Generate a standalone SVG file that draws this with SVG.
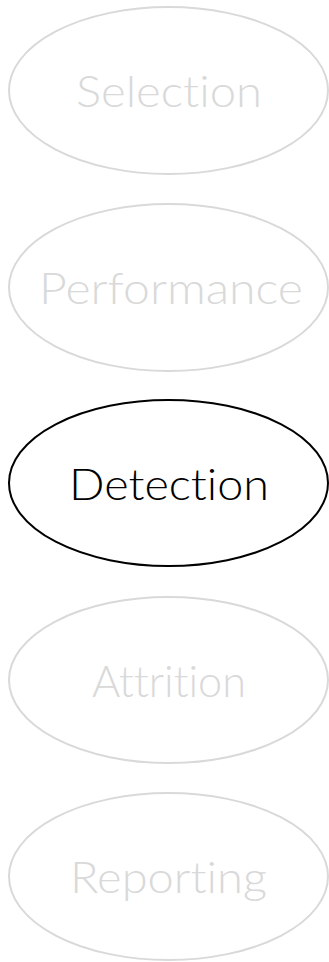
<svg xmlns="http://www.w3.org/2000/svg" width="329" height="962" viewBox="0 0 329 962">
<style>
.bg{fill:#ffffff}
.n ellipse{fill:#ffffff;stroke-width:2}
.dim ellipse{stroke:#d9d9d9}
.dim text{fill:#d9d9d9}
.act ellipse{stroke:#000000}
.act text{fill:#000000}
text{font-family:"Lato","Liberation Sans","DejaVu Sans",sans-serif;font-weight:300;font-size:44px;text-anchor:middle;font-variant-ligatures:none;font-feature-settings:"liga" 0,"clig" 0}
</style>
<rect class="bg" x="0" y="0" width="329" height="962"/>
<g id="connectors"></g>
<g id="selection" class="n dim">
<ellipse cx="168.5" cy="90.5" rx="159.5" ry="83.5"/>
<text x="169" y="107" textLength="186" lengthAdjust="spacingAndGlyphs">Selection</text>
</g>
<g id="performance" class="n dim">
<ellipse cx="168.5" cy="287.5" rx="159.5" ry="83.5"/>
<text x="171" y="303.5" textLength="264" lengthAdjust="spacingAndGlyphs">Performance</text>
</g>
<g id="detection" class="n act">
<ellipse cx="168.5" cy="483" rx="159.5" ry="83"/>
<text x="169" y="500" textLength="200" lengthAdjust="spacingAndGlyphs">Detection</text>
</g>
<g id="attrition" class="n dim">
<ellipse cx="168.5" cy="680" rx="159.5" ry="83"/>
<text x="169" y="697" textLength="154" lengthAdjust="spacingAndGlyphs">Attrition</text>
</g>
<g id="reporting" class="n dim">
<ellipse cx="168.5" cy="876.5" rx="159.5" ry="83.5"/>
<text x="168.5" y="893" textLength="197" lengthAdjust="spacingAndGlyphs">Reporting</text>
</g>
</svg>
